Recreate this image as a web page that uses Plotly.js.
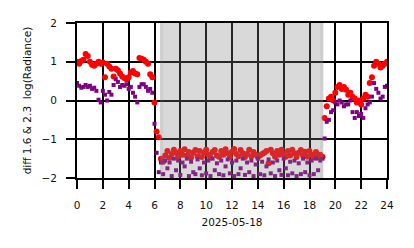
<!DOCTYPE html>
<html>
<head>
<meta charset="utf-8">
<script src="https://cdn.plot.ly/plotly-3.0.1.min.js"></script>
<style>html,body{margin:0;padding:0;background:#fff;}#chart{width:414px;height:248px;}</style>
</head>
<body>
<div id="chart"></div>
<script>
// sampling: every 10 minutes from 00:00 to 24:00 (hours of day)
const stepHours = 1 / 6;
const nSamples = 145;
const hours = Array.from({length: nSamples}, (_, i) => i * stepHours);

const diffRed = [
  1.0, 0.95, 1.02, 1.05, 1.2, 1.15,
  1.0, 0.92, 0.9, 0.95, 1.0, 0.95,
  0.98, 0.6, 0.95, 0.88, 0.82, 0.62,
  0.82, 0.78, 0.7, 0.62, 0.58, 0.55,
  0.6, 0.72, 0.76, 0.7, 0.68, 1.1,
  1.08, 1.05, 1.0, 0.95, 0.68, 0.6,
  -0.05, -0.8,
  -0.95, -1.5, -1.58, -1.42, -1.3, -1.48, -1.38, -1.27, -1.35, -1.45,
  -1.3, -1.4, -1.26, -1.42, -1.33, -1.47,
  -1.35, -1.28, -1.44, -1.3, -1.46, -1.35,
  -1.27, -1.4, -1.47, -1.33, -1.28, -1.42,
  -1.45, -1.3, -1.4, -1.26, -1.36, -1.46,
  -1.32, -1.25, -1.38, -1.44, -1.28, -1.36,
  -1.46, -1.38, -1.27, -1.44, -1.33, -1.4,
  -1.46, -1.42, -1.38, -1.35, -1.3, -1.62,
  -1.27, -1.36, -1.45, -1.3, -1.4, -1.27,
  -1.38, -1.45, -1.3, -1.42, -1.27, -1.36,
  -1.46, -1.35, -1.28, -1.42, -1.32, -1.45,
  -1.3, -1.4, -1.46, -1.33, -1.45, -1.4,
  -1.45, -0.45, -0.15, 0.05, 0.1, 0.0,
  0.2, 0.35, 0.4, 0.3, 0.35, 0.28,
  0.15, 0.2, 0.1, 0.05, -0.05, 0.0,
  -0.1, 0.05, 0.15, 0.1, 0.45, 0.6,
  0.9, 1.0, 0.95, 0.85, 0.9, 0.95,
  1.0
];

const diffPurple = [
  0.45, 0.38, 0.33, 0.35, 0.4, 0.35,
  0.38, 0.3, 0.33, 0.25, 0.02, -0.05,
  0.25, 0.15, 0.0, 0.22, 0.15, 0.4,
  0.55, 0.48, 0.35, 0.4, 0.38, 0.42,
  0.3, 0.35, 0.2, 0.1, -0.05, 0.35,
  0.42, 0.42, 0.35, 0.25, 0.3, 0.2,
  -0.6, -1.35,
  -1.85, -1.6, -1.9, -1.55, -1.75, -1.6, -1.95, -1.5, -1.8, -1.55,
  -1.92, -1.6, -1.7, -1.5, -1.95, -1.58,
  -1.85, -1.9, -1.52, -1.75, -1.93, -1.6,
  -1.88, -1.55, -1.95, -1.5, -1.8, -1.62,
  -1.9, -1.55, -1.93, -1.7, -1.52, -1.88,
  -1.6, -1.95, -1.55, -1.9, -1.75, -1.5,
  -1.92, -1.6, -1.85, -1.55, -1.95, -1.65,
  -1.5, -1.9, -1.58, -1.93, -1.7, -1.52,
  -1.88, -1.6, -1.95, -1.55, -1.8, -1.92,
  -1.5, -1.75, -1.93, -1.58, -1.88, -1.55,
  -1.95, -1.62, -1.9, -1.5, -1.85, -1.6,
  -1.93, -1.55, -1.9, -1.5, -1.8, -1.55,
  -1.5, -0.98, -0.55, -0.5, -0.3, -0.25,
  -0.05, -0.1, 0.0, -0.05, -0.15, -0.1,
  -0.1, 0.0, -0.3, -0.45, -0.3, -0.4,
  -0.35, -0.45, -0.2, -0.1, -0.05, 0.1,
  0.45, 0.3, 0.2, 0.05, 0.1, 0.35,
  0.38
];

const nightStart = 6.43;
const nightEnd = 19.07;
const xTickVals = [0, 2, 4, 6, 8, 10, 12, 14, 16, 18, 20, 22, 24];
const yTickVals = [-2, -1, 0, 1, 2];
const dateLabel = '2025-05-18';
const yLabel = 'diff 1.6 &amp; 2.3\u00a0 log(Radiance)';

const traces = [
  {
    x: hours, y: diffRed, type: 'scatter', mode: 'markers',
    marker: {symbol: 'circle', size: 6, color: '#ff0000', line: {width: 0}},
    hoverinfo: 'skip'
  },
  {
    x: hours, y: diffPurple, type: 'scatter', mode: 'markers',
    marker: {symbol: 'square', size: 4, color: '#800080', line: {width: 0}},
    hoverinfo: 'skip'
  }
];

const fnt = {family: 'DejaVu Sans', size: 10.5, color: '#111111'};

const layout = {
  width: 414, height: 248,
  margin: {l: 77, r: 27, t: 23, b: 70, pad: 0},
  paper_bgcolor: '#ffffff', plot_bgcolor: '#ffffff',
  showlegend: false,
  font: fnt,
  xaxis: {
    range: [0, 24], tickvals: xTickVals, ticktext: xTickVals.map(String),
    showgrid: true, gridcolor: '#000000', gridwidth: 2,
    zeroline: false, showline: true, linecolor: '#000000', linewidth: 2, mirror: true,
    ticks: 'outside', ticklen: 9, tickwidth: 2, tickcolor: '#000000',
    ticklabelstandoff: 7,
    tickfont: fnt,
    title: {text: dateLabel, font: fnt, standoff: 9}
  },
  yaxis: {
    range: [-2, 2], tickvals: yTickVals,
    showgrid: true, gridcolor: '#000000', gridwidth: 2,
    zeroline: false, showline: true, linecolor: '#000000', linewidth: 2, mirror: true,
    ticks: 'outside', ticklen: 9, tickwidth: 2, tickcolor: '#000000',
    ticklabelstandoff: 7,
    tickfont: fnt,
    title: {text: yLabel, font: fnt, standoff: 8}
  },
  shapes: [
    {type: 'rect', xref: 'x', yref: 'paper', x0: nightStart, x1: nightEnd, y0: 0, y1: 1,
     fillcolor: 'rgba(128,128,128,0.3)', line: {width: 0}, layer: 'above'},
    {type: 'rect', xref: 'x', yref: 'paper', x0: nightStart, x1: nightStart + 0.25, y0: 0, y1: 1,
     fillcolor: 'rgba(128,128,128,0.12)', line: {width: 0}, layer: 'above'},
    {type: 'rect', xref: 'x', yref: 'paper', x0: nightEnd - 0.25, x1: nightEnd, y0: 0, y1: 1,
     fillcolor: 'rgba(128,128,128,0.12)', line: {width: 0}, layer: 'above'}
  ]
};

Plotly.newPlot('chart', traces, layout, {staticPlot: true, displayModeBar: false});
</script>
</body>
</html>
